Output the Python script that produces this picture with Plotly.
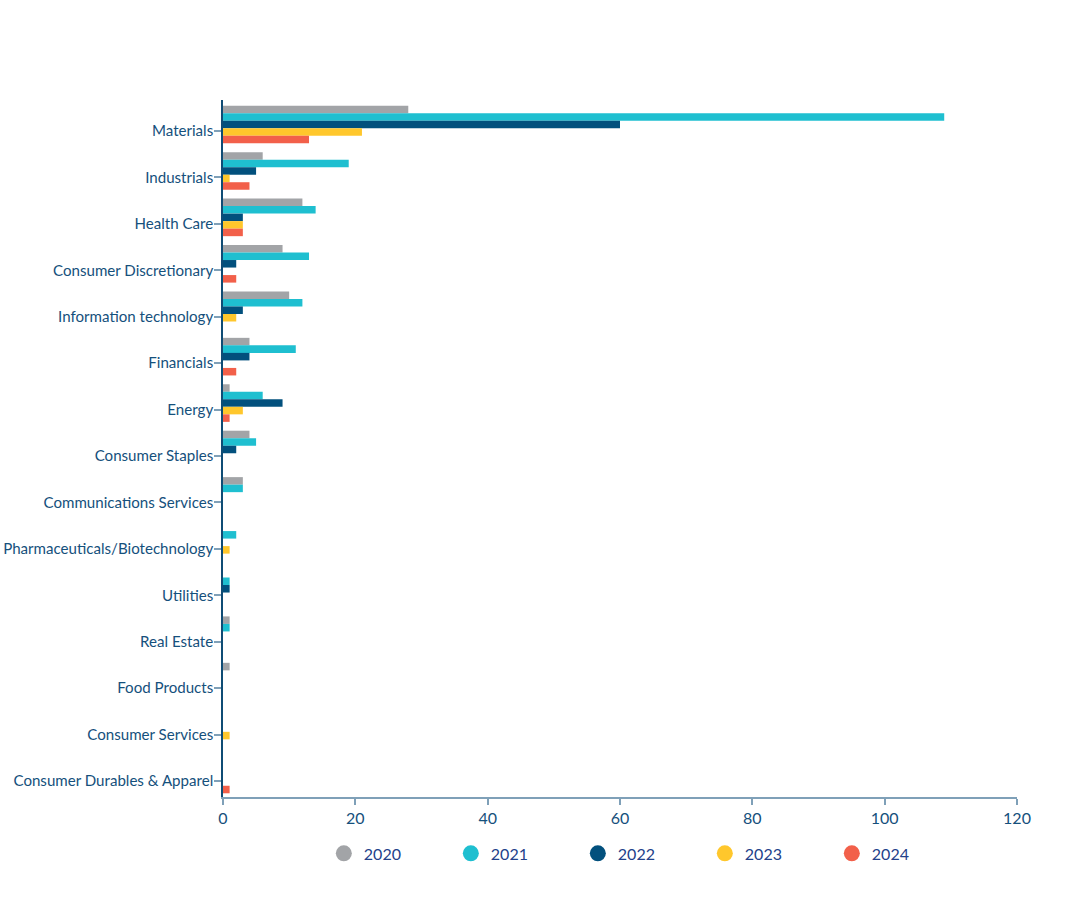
import plotly.graph_objects as go

categories = [
    'Materials', 'Industrials', 'Health Care', 'Consumer Discretionary',
    'Information technology', 'Financials', 'Energy', 'Consumer Staples',
    'Communications Services', 'Pharmaceuticals/Biotechnology', 'Utilities',
    'Real Estate', 'Food Products', 'Consumer Services',
    'Consumer Durables & Apparel',
]

years = ['2020', '2021', '2022', '2023', '2024']

v2020 = [28, 6, 12, 9, 10, 4, 1, 4, 3, 0, 0, 1, 1, 0, 0]
v2021 = [109, 19, 14, 13, 12, 11, 6, 5, 3, 2, 1, 1, 0, 0, 0]
v2022 = [60, 5, 3, 2, 3, 4, 9, 2, 0, 0, 1, 0, 0, 0, 0]
v2023 = [21, 1, 3, 0, 2, 0, 3, 0, 0, 1, 0, 0, 0, 1, 0]
v2024 = [13, 4, 3, 2, 0, 2, 1, 0, 0, 0, 0, 0, 0, 0, 1]

values = [v2020, v2021, v2022, v2023, v2024]
colors = ['#a2a4a7', '#1fbfd0', '#02507d', '#ffc72c', '#f2604a']

text_col = '#15507c'
axis_col = '#7fa0b8'

fig = go.Figure()

bar_w = 0.162
start = -0.545
for i, (yr, vals, col) in enumerate(zip(years, values, colors)):
    fig.add_trace(go.Bar(
        y=categories, x=vals, orientation='h', name=yr,
        marker=dict(color=col, line=dict(width=0)),
        width=bar_w, offset=start + i * bar_w,
        showlegend=False,
    ))
    # legend-only circle markers
    fig.add_trace(go.Scatter(
        x=[None], y=[None], mode='markers', name=yr,
        marker=dict(color=col, size=16, symbol='circle'),
    ))

fig.update_layout(
    width=1080, height=910,
    margin=dict(l=223, r=63, t=100, b=113, autoexpand=False),
    paper_bgcolor='white', plot_bgcolor='white',
    font=dict(family='Lato', size=16, color=text_col),
    barmode='overlay',
    showlegend=True,
    legend=dict(
        orientation='h', x=0.127, xanchor='left', y=-0.081, yanchor='middle',
        font=dict(size=16, color='#23418a'),
        entrywidth=82, entrywidthmode='pixels',
        bgcolor='rgba(0,0,0,0)',
    ),
)

fig.update_xaxes(
    range=[0, 120], tickvals=[0, 20, 40, 60, 80, 100, 120],
    showgrid=False, zeroline=False, automargin=False,
    showline=True, linecolor=axis_col, linewidth=2,
    ticks='outside', ticklen=6, tickcolor=axis_col, tickwidth=1.5,
    tickfont=dict(size=16, color=text_col),
)

fig.update_yaxes(
    type='category', categoryorder='array', categoryarray=categories,
    range=[14.345, -0.668], automargin=False,
    showgrid=False, zeroline=False,
    showline=True, linecolor='#0f4c75', linewidth=1.5,
    ticks='outside', ticklen=7, tickcolor=axis_col, tickwidth=1.5,
    ticklabelstandoff=-2,
    tickfont=dict(size=15.1, color=text_col),
)

# drop the default 8px page margin so the figure sits at the window's corner
fig.write_html('out.html', config={'displayModeBar': False},
               post_script="document.body.style.margin='0';")
